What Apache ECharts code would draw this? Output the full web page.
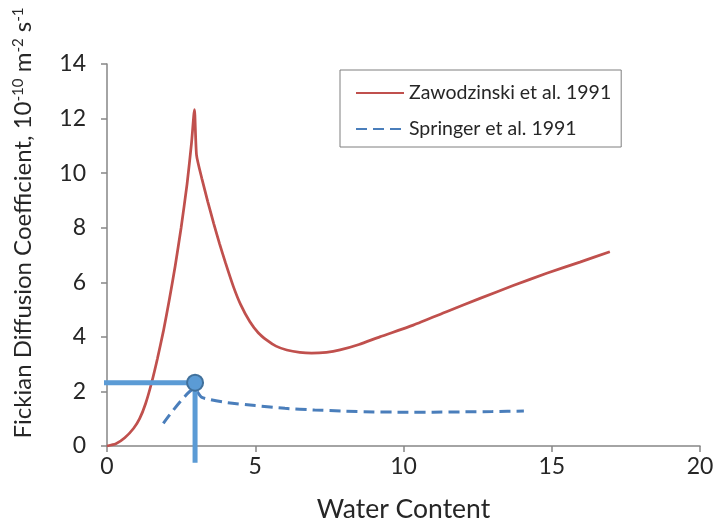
<!DOCTYPE html>
<html>
<head>
<meta charset="utf-8">
<script src="https://cdn.jsdelivr.net/npm/echarts@6/dist/echarts.min.js"></script>
<style>html,body{margin:0;padding:0;background:#fff}#c{width:715px;height:522px}</style>
</head>
<body>
<div id="c"></div>
<script>
// Zawodzinski et al. 1991 (x = water content, y = diffusion coefficient)
const zawX = [0, 0.3, 0.6, 0.9, 1.1, 1.3, 1.5, 1.7, 1.9, 2.1, 2.3, 2.5, 2.7, 2.85, 2.95, 3.02, 3.2, 3.4, 3.6, 3.8, 4.0, 4.26, 4.5, 4.82, 5.1, 5.39, 5.7, 6.06, 6.5, 6.9, 7.4, 7.86, 8.5, 9.2, 10.33, 11.45, 12.58, 13.7, 14.83, 15.95, 16.96];
const zawY = [0, 0.08, 0.3, 0.65, 1.0, 1.55, 2.3, 3.2, 4.2, 5.35, 6.6, 8.0, 9.6, 11.1, 12.33, 10.66, 9.8, 8.95, 8.15, 7.4, 6.7, 5.85, 5.2, 4.55, 4.15, 3.88, 3.66, 3.52, 3.43, 3.4, 3.43, 3.52, 3.72, 4.0, 4.43, 4.92, 5.41, 5.88, 6.33, 6.74, 7.12];
// Springer et al. 1991
const sprX = [1.9, 2.95, 3.2, 4, 5, 6, 7, 8, 9, 10, 11, 12, 13, 14.06];
const sprY = [0.83, 2.1, 1.78, 1.6, 1.48, 1.38, 1.32, 1.28, 1.25, 1.24, 1.24, 1.25, 1.26, 1.28];
// highlighted point with guide lines to the axes
const markX = [-0.33, 2.97, 2.97];
const markY = [2.32, 2.32, -0.61];
const pointX = [2.97];
const pointY = [2.32];
const xTicks = {min: 0, max: 20, interval: 5};
const yTicks = {min: 0, max: 14, interval: 2};

const zip = (a, b) => a.map((v, i) => [v, b[i]]);
const FONT = 'Lato';
const chart = echarts.init(document.getElementById('c'));
chart.setOption({
  animation: false,
  grid: {left: 107, right: 15, top: 64, bottom: 76, outerBoundsMode: 'none', containLabel: false},
  legend: {
    data: ['Zawodzinski et al. 1991', 'Springer et al. 1991'],
    orient: 'vertical', left: 340, top: 70,
    borderColor: '#7f7f7f', borderWidth: 1,
    padding: [12, 10, 7, 15], itemGap: 14, itemWidth: 48, itemHeight: 14,
    itemStyle: {opacity: 0},
    textStyle: {fontFamily: FONT, fontSize: 19.5, lineHeight: 22, color: '#262626'}
  },
  xAxis: {
    type: 'value', min: xTicks.min, max: xTicks.max, interval: xTicks.interval,
    name: 'Water Content', nameLocation: 'middle', nameGap: 50,
    nameTextStyle: {fontFamily: FONT, fontSize: 26.5, color: '#262626'},
    axisLine: {lineStyle: {color: '#868686', width: 1.5}},
    axisTick: {show: true, length: 6, lineStyle: {color: '#868686', width: 1.5}},
    axisLabel: {fontFamily: FONT, fontSize: 23, color: '#262626', margin: 9},
    splitLine: {show: false}
  },
  yAxis: {
    type: 'value', min: yTicks.min, max: yTicks.max, interval: yTicks.interval,
    name: 'Fickian Diffusion Coefficient, 10{s|-10} m{s|-2} s{s|-1}',
    nameLocation: 'middle', nameGap: 72, nameRotate: 90,
    nameTextStyle: {
      fontFamily: FONT, fontSize: 24, color: '#262626', padding: [0, 0, 0, 64],
      rich: {s: {fontFamily: FONT, fontSize: 15, color: '#262626', verticalAlign: 'top', lineHeight: 15}}
    },
    axisLine: {show: true, lineStyle: {color: '#868686', width: 1.5}},
    axisTick: {show: true, length: 6, lineStyle: {color: '#868686', width: 1.5}},
    axisLabel: {fontFamily: FONT, fontSize: 23, color: '#262626', margin: 21},
    splitLine: {show: false}
  },
  series: [
    {
      name: 'Zawodzinski et al. 1991', type: 'line', data: zip(zawX, zawY),
      symbol: 'none', smooth: 0.2,
      lineStyle: {color: '#c0504d', width: 2.75}, itemStyle: {color: '#c0504d'}, z: 3
    },
    {
      name: 'Springer et al. 1991', type: 'line', data: zip(sprX, sprY),
      symbol: 'none', smooth: 0.2,
      lineStyle: {color: '#4a7ebb', width: 3, type: [11, 6]}, itemStyle: {color: '#4a7ebb'}, z: 3
    },
    {
      name: 'guide', type: 'line', data: zip(markX, markY), clip: false,
      symbol: 'none', lineStyle: {color: '#5b9bd5', width: 5, cap: 'butt'}, z: 5
    },
    {
      name: 'point', type: 'scatter', data: zip(pointX, pointY), clip: false,
      symbolSize: 16, itemStyle: {color: '#5b9bd5', borderColor: '#41719c', borderWidth: 2, opacity: 1}, z: 6
    }
  ]
});
</script>
</body>
</html>
